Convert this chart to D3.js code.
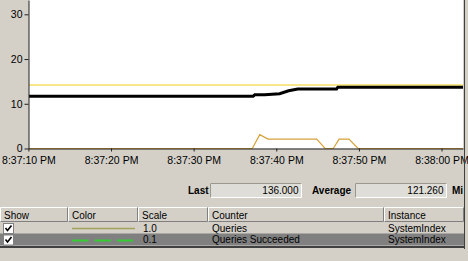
<!doctype html>
<html lang="en">
<head>
    <meta charset="UTF-8">
    <title>Performance Monitor</title>
    <style>
        body { margin: 0; background: #d4d0c8; }
        svg { display: block; font-family: "Liberation Sans", Arial, sans-serif; font-size: 10px; }
        .axis path, .axis line { stroke: #202020; }
        .axis text { fill: #000; font-size: 10.5px; font-family: "Liberation Sans", Arial, sans-serif; }
    </style>
</head>
<body>
<svg width="468" height="261"></svg>
<script src="https://cdn.jsdelivr.net/npm/d3@7"></script>
<script>
    // chart data (seconds after 8:37:10 PM)
    const startTime = new Date(2009, 0, 1, 20, 37, 10);
    const yTicks = [0, 10, 20, 30];

    const otherSec = [0, 52.6];
    const otherVal = [14.2, 14.2];

    const queriesSec = [0, 27.1, 28.0, 29.0, 34.9, 35.9, 36.9, 37.6, 38.8, 39.9, 52.6];
    const queriesVal = [0, 0, 3.1, 2.1, 2.1, 0, 0, 2.1, 2.1, 0, 0];

    const succeededSec = [0, 27.2, 27.4, 28.6, 30.4, 31.5, 32.6, 37.3, 37.45, 52.6];
    const succeededVal = [11.7, 11.7, 12.0, 12.0, 12.25, 12.9, 13.3, 13.3, 13.7, 13.7];

    // legend table
    const showCol = [true, true];
    const scales = ["1.0", "0.1"];
    const counters = ["Queries", "Queries Succeeded"];
    const instances = ["SystemIndex", "SystemIndex"];
    const headers = ["Show", "Color", "Scale", "Counter", "Instance"];
    const lastValue = "136.000";
    const averageValue = "121.260";

    const svg = d3.select("svg");
    const plot = {left: 29, top: 0, right: 463, bottom: 148.5};

    const x = d3.scaleTime()
        .domain([startTime, new Date(+startTime + 52600)])
        .range([28.4, 463]);
    const y = d3.scaleLinear().domain([0, 33.2]).range([148.5, 0]);

    svg.append("rect")
        .attr("x", plot.left).attr("y", plot.top)
        .attr("width", plot.right - plot.left).attr("height", plot.bottom - plot.top)
        .attr("fill", "#fff");

    svg.append("clipPath").attr("id", "clip")
        .append("rect")
        .attr("x", plot.left).attr("y", plot.top)
        .attr("width", plot.right - plot.left).attr("height", plot.bottom - plot.top + 1);

    const toPoints = (secs, vals) => secs.map((s, i) => ({t: new Date(+startTime + s * 1000), v: vals[i]}));
    const line = d3.line().x(d => x(d.t)).y(d => y(d.v));

    const lines = svg.append("g").attr("clip-path", "url(#clip)");
    lines.append("path").datum(toPoints(otherSec, otherVal))
        .attr("d", line).attr("fill", "none").attr("stroke", "#f0cf14").attr("stroke-width", 1.2);
    lines.append("path").datum(toPoints(queriesSec, queriesVal))
        .attr("d", line).attr("fill", "none").attr("stroke", "#d6a23a").attr("stroke-width", 1.2);
    lines.append("path").datum(toPoints(succeededSec, succeededVal))
        .attr("d", line).attr("fill", "none").attr("stroke", "#000").attr("stroke-width", 3);

    // axes
    svg.append("g").attr("class", "axis")
        .attr("transform", "translate(28.5,0)")
        .call(d3.axisLeft(y).tickValues(yTicks).tickSize(4).tickSizeOuter(0).tickPadding(2));

    svg.append("g").attr("class", "axis")
        .attr("transform", "translate(0,148.5)")
        .call(d3.axisBottom(x)
            .ticks(d3.timeSecond.every(10))
            .tickFormat(d3.timeFormat("%-I:%M:%S %p"))
            .tickSize(3).tickSizeOuter(0).tickPadding(5));

    // right border
    svg.append("line").attr("x1", 464.5).attr("x2", 464.5).attr("y1", 0).attr("y2", 249)
        .attr("stroke", "#404040");

    // Last / Average boxes
    const stats = [
        {label: "Last", lx: 188, bx: 210.5, bw: 91, value: lastValue},
        {label: "Average", lx: 312, bx: 355.5, bw: 91, value: averageValue}
    ];
    const sg = svg.selectAll(".stat").data(stats).enter().append("g").attr("class", "stat");
    sg.append("text").attr("x", d => d.lx).attr("y", 194)
        .attr("font-weight", "bold").text(d => d.label);
    sg.append("rect").attr("x", d => d.bx).attr("y", 183.5).attr("width", d => d.bw).attr("height", 14)
        .attr("fill", "#dfddd7").attr("stroke", "#fff");
    sg.append("path").attr("d", d => "M" + d.bx + ",197.5V183.5H" + (d.bx + d.bw))
        .attr("fill", "none").attr("stroke", "#9a978f");
    sg.append("text").attr("x", d => d.bx + d.bw - 3).attr("y", 194)
        .attr("text-anchor", "end").text(d => d.value);

    // the next label is cut by the window edge in the original, only "Mi" shows
    svg.append("text").attr("x", 452).attr("y", 194).attr("font-weight", "bold").text("Mi");

    // table
    const colX = [0, 68, 138, 208, 384, 464];
    const hg = svg.append("g");
    headers.forEach((h, i) => {
        const x0 = colX[i], x1 = colX[i + 1];
        hg.append("rect").attr("x", x0).attr("y", 207).attr("width", x1 - x0).attr("height", 15)
            .attr("fill", "#d4d0c8");
        hg.append("path").attr("d", "M" + (x0 + 0.5) + ",221.5V207.5H" + (x1 - 0.5))
            .attr("fill", "none").attr("stroke", "#fff");
        hg.append("path").attr("d", "M" + (x0 + 0.5) + ",221.5H" + (x1 - 0.5) + "V207.5")
            .attr("fill", "none").attr("stroke", "#808080");
        hg.append("text").attr("x", x0 + 4).attr("y", 218.5).text(h);
    });

    const rowY = [222, 233.5];
    const rowH = [11.5, 12];
    const rowFill = ["#d4d0c8", "#808080"];
    counters.forEach((c, i) => {
        const y0 = rowY[i];
        const base = y0 + 9.5;
        svg.append("rect").attr("x", 0).attr("y", y0).attr("width", 464).attr("height", rowH[i])
            .attr("fill", rowFill[i]);
        // checkbox
        svg.append("rect").attr("x", 3.5).attr("y", y0 + 1.5).attr("width", 10).attr("height", 10)
            .attr("fill", "#fff").attr("stroke", "#808080");
        if (showCol[i]) {
            svg.append("path").attr("d", "M5.5," + (y0 + 6) + "l2,2.5l4,-5")
                .attr("fill", "none").attr("stroke", "#000").attr("stroke-width", 1.6);
        }
        svg.append("text").attr("x", 143).attr("y", base).text(scales[i]);
        svg.append("text").attr("x", 212).attr("y", base).text(c);
        svg.append("text").attr("x", 388).attr("y", base).text(instances[i]);
    });
    svg.append("line").attr("x1", 72).attr("x2", 135).attr("y1", 228.5).attr("y2", 228.5)
        .attr("stroke", "#a3a25c").attr("stroke-width", 1.5);
    svg.append("line").attr("x1", 72).attr("x2", 133).attr("y1", 240.5).attr("y2", 240.5)
        .attr("stroke", "#33cc33").attr("stroke-width", 2).attr("stroke-dasharray", "16.5,6");

    svg.append("rect").attr("x", 0).attr("y", 246).attr("width", 465).attr("height", 2)
        .attr("fill", "#404040");
</script>
</body>
</html>
